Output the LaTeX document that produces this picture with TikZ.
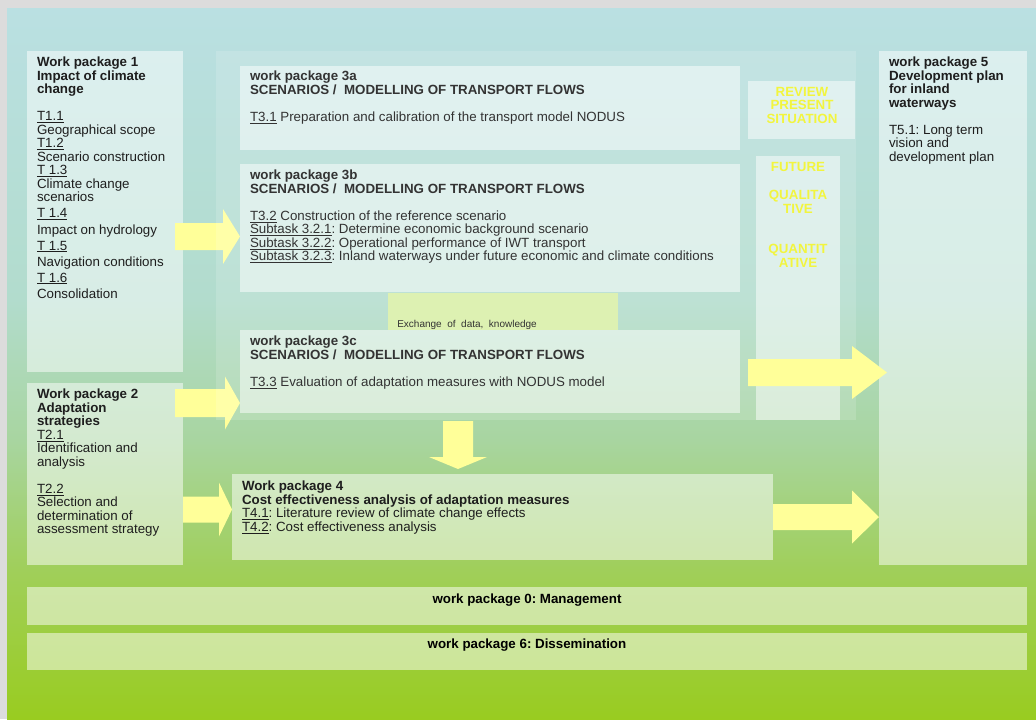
\documentclass[tikz,border=0pt]{standalone}
\usepackage{fontspec}
\setmainfont{Liberation Sans}
\usetikzlibrary{calc,fit}
\frenchspacing
\definecolor{bggray}{RGB}{220,220,220}
\definecolor{bgtop}{RGB}{186,224,226}
\definecolor{bgA}{RGB}{178,220,205}
\definecolor{bgB}{RGB}{168,213,160}
\definecolor{bgC}{RGB}{160,207,90}
\definecolor{bgbot}{RGB}{153,204,32}
\definecolor{arrowyellow}{RGB}{255,255,153}
\definecolor{exchfill}{RGB}{221,241,178}
\definecolor{labelyellow}{RGB}{242,245,62}
\definecolor{txtdark}{RGB}{30,30,30}
\definecolor{txtgray}{RGB}{51,51,51}
\pgfdeclareverticalshading{bgsh}{100bp}{color(0bp)=(bgbot); color(25bp)=(bgbot); color(35.5bp)=(bgC); color(44.6bp)=(bgB); color(54.5bp)=(bgA); color(75bp)=(bgtop); color(100bp)=(bgtop)}
\pgfdeclarelayer{bglayer}
\pgfdeclarelayer{midlayer}
\pgfsetlayers{bglayer,midlayer,main}
\newcommand{\ulx}[1]{\setbox0\hbox{#1}\rlap{\vrule width\wd0 height -0.9pt depth 1.6pt}\box0\relax}
\tikzset{
  box/.style={fill=white, fill opacity=0.5, draw=none, inner sep=0pt, outer sep=0pt},
  veil/.style={fill=white, fill opacity=0.15, draw=none, inner sep=0pt, outer sep=0pt},
  exchbox/.style={fill=exchfill, draw=none, inner sep=0pt, outer sep=0pt},
  blockarrow/.style={fill=arrowyellow, draw=none},
  wptext/.style={anchor=north west, inner sep=0pt, outer sep=0pt, align=left, text=txtdark, font=\fontsize{10}{10.125}\selectfont\frenchspacing},
  wp3text/.style={wptext, text=txtgray},
  yellowlabel/.style={anchor=north, inner sep=0pt, outer sep=0pt, align=center, text=labelyellow, font=\bfseries\fontsize{10}{10.125}\selectfont},
  bandtext/.style={inner sep=0pt, outer sep=0pt, text=black, font=\bfseries\fontsize{10}{12}\selectfont\frenchspacing}
}
% horizontal block arrow: start, tip, half body, half head, head length
\newcommand{\blkH}[5]{\fill[blockarrow] ($(#1)+(0,-#3)$) -- ($(#2)+(-#5,-#3)$) -- ($(#2)+(-#5,-#4)$) -- (#2) -- ($(#2)+(-#5,#4)$) -- ($(#2)+(-#5,#3)$) -- ($(#1)+(0,#3)$) -- cycle;}
% vertical (downward) block arrow
\newcommand{\blkV}[5]{\fill[blockarrow] ($(#1)+(-#3,0)$) -- ($(#2)+(-#3,-#5)$) -- ($(#2)+(-#4,-#5)$) -- (#2) -- ($(#2)+(#4,-#5)$) -- ($(#2)+(#3,-#5)$) -- ($(#1)+(#3,0)$) -- cycle;}
\begin{document}
\begin{tikzpicture}[x=0.75pt,y=-0.75pt]
\useasboundingbox (0,0) rectangle (1036,719);
\begin{pgfonlayer}{bglayer}
  \fill[bggray] (0,0) rectangle (1036,719);
  \shade[shading=bgsh] (7,8) rectangle (1036,719);
  \node[box, fit={(27,51) (183,372)}] (wp1) {};
  \node[box, fit={(27,383) (183,565)}] (wp2) {};
\end{pgfonlayer}
% container of work package 3
\node[veil, fit={(216,51) (856,420)}] (ctr) {};
\node[box, fit={(240,66) (740,150)}] (wp3a) {};
\node[box, fit={(240,164) (740,292)}] (wp3b) {};
\node[exchbox, fit={(388,293) (618,330)}] (exch) {};
\node[box, fit={(240,330) (740,413)}] (wp3c) {};
\node[box, fit={(748,81) (855,139)}] (rev) {};
\node[box, fit={(756,156) (840,420)}] (fut) {};
\node[box, fit={(879,51) (1027,565)}] (wp5) {};
\node[box, fit={(232,474) (773,560)}] (wp4) {};
\node[box, fit={(27,587) (1027,625)}] (wp0) {};
\node[box, fit={(27,633) (1027,670)}] (wp6) {};
% arrows under the container veil
\begin{pgfonlayer}{midlayer}
  \coordinate (a1s) at ($(wp1.east)+(-8,25)$);
  \coordinate (a1t) at (a1s -| wp3b.west);
  \blkH{a1s}{a1t}{13.5}{27.5}{17}
  \coordinate (a2s) at ($(wp2.east)+(-8,-71)$);
  \coordinate (a2t) at (a2s -| wp3c.west);
  \blkH{a2s}{a2t}{14}{26.5}{15}
\end{pgfonlayer}
% arrows on top
\coordinate (a3s) at ($(wp2.east)+(0,35.5)$);
\coordinate (a3t) at (a3s -| wp4.west);
\blkH{a3s}{a3t}{13}{27}{13}
\coordinate (a4s) at ($(ctr.south)+(-78,1)$);
\coordinate (a4b) at (a4s |- wp4.north);
\coordinate (a4t) at ($(a4b)+(0,-5)$);
\blkV{a4s}{a4t}{15}{29}{12}
\coordinate (a5s) at ($(fut.west)+(-8,84.5)$);
\coordinate (a5b) at (a5s -| wp5.west);
\coordinate (a5t) at ($(a5b)+(8,0)$);
\blkH{a5s}{a5t}{13.5}{26.5}{35}
\coordinate (a6t) at (wp4.east -| wp5.west);
\blkH{wp4.east}{a6t}{13}{26.5}{27}
% texts
\node[wptext] (t1) at (37,57.3) {\textbf{Work package 1}\\
\textbf{Impact of climate}\\
\textbf{change}\\[10.1pt]
\ulx{T1.1}\\
Geographical scope\\
\ulx{T1.2}\\
Scenario construction\\
\ulx{T 1.3}\\
Climate change\\
scenarios\\[1.9pt]
\ulx{T 1.4}\\[1.9pt]
Impact on hydrology\\[1.9pt]
\ulx{T 1.5}\\[1.9pt]
Navigation conditions\\[1.9pt]
\ulx{T 1.6}\\[1.9pt]
Consolidation};
\node[wptext] (t2) at (37,389.3) {\textbf{Work package 2}\\
\textbf{Adaptation}\\
\textbf{strategies}\\
\ulx{T2.1}\\
Identification and\\
analysis\\[10.1pt]
\ulx{T2.2}\\
Selection and\\
determination of\\
assessment strategy};
\node[wp3text] (t3a) at (250,71.3) {\textbf{work package 3a}\\
\textbf{SCENARIOS / \ MODELLING OF TRANSPORT FLOWS}\\[10.1pt]
\ulx{T3.1} Preparation and calibration of the transport model NODUS};
\node[wp3text] (t3b) at (250,170.3) {\textbf{work package 3b}\\
\textbf{SCENARIOS / \ MODELLING OF TRANSPORT FLOWS}\\[10.1pt]
\ulx{T3.2} Construction of the reference scenario\\
\ulx{Subtask 3.2.1}: Determine economic background scenario\\
\ulx{Subtask 3.2.2}: Operational performance of IWT transport\\
\ulx{Subtask 3.2.3}: Inland waterways under future economic and climate conditions};
\node[wp3text] (t3c) at (250,336.3) {\textbf{work package 3c}\\
\textbf{SCENARIOS / \ MODELLING OF TRANSPORT FLOWS}\\[10.1pt]
\ulx{T3.3} Evaluation of adaptation measures with NODUS model};
\node[anchor=base west, inner sep=0pt, text=txtgray, font=\fontsize{7.5}{9}\selectfont] (tex) at (397,327.5) {Exchange\ \ of\ \ data,\ \ knowledge};
\node[wptext] (t4) at (242,481.3) {\textbf{Work package 4}\\
\textbf{Cost effectiveness analysis of adaptation measures}\\
\ulx{T4.1}: Literature review of climate change effects\\
\ulx{T4.2}: Cost effectiveness analysis};
\node[wptext] (t5) at (889,57.3) {\textbf{work package 5}\\
\textbf{Development plan}\\
\textbf{for inland}\\
\textbf{waterways}\\[10.1pt]
T5.1: Long term\\
vision and\\
development plan};
\node[yellowlabel] (trev) at (802,87.3) {REVIEW\\PRESENT\\SITUATION};
\node[yellowlabel] (tfut) at (798,162.3) {FUTURE\\[10.9pt]QUALITA\\TIVE\\[20.6pt]QUANTIT\\ATIVE};
\node[bandtext] (t0) at ($(wp0.north)+(0,13)$) {work package 0: Management};
\node[bandtext] (t6) at ($(wp6.north)+(0,12)$) {work package 6: Dissemination};
\end{tikzpicture}
\end{document}
